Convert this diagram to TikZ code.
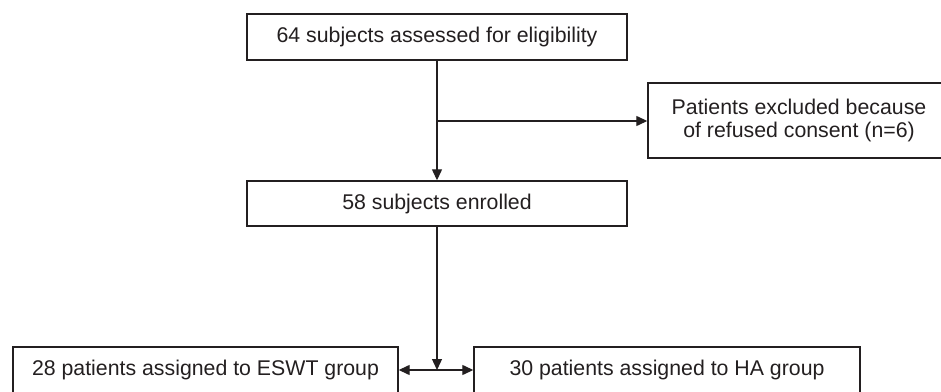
\documentclass[tikz,border=0pt]{standalone}
\usepackage{fontspec}
\setmainfont{Liberation Sans}
\usetikzlibrary{arrows.meta}
\definecolor{ink}{HTML}{231F20}
\begin{document}
\begin{tikzpicture}[x=1pt,y=1pt,
  box/.style={draw=ink, line width=1.4pt, text=ink, inner sep=0pt, align=center,
    font=\fontsize{21.3}{23}\selectfont},
  arr/.style={draw=ink, line width=1.3pt, -{Triangle[length=11pt,width=10pt]}},
  darr/.style={draw=ink, line width=1.3pt, {Triangle[length=11pt,width=10pt]}-{Triangle[length=11pt,width=10pt]}}]
\useasboundingbox (0,0) rectangle (941,391);
\node[box, minimum width=380, minimum height=46] (top) at (437,354) {64 subjects assessed for eligibility};
\node[box, minimum width=380, minimum height=45] (mid) at (437,187.5) {58 subjects enrolled};
\node[box, minimum width=302, minimum height=75] (excl) at (799,270.5) {Patients excluded because\\of refused consent (n=6)};
\node[box, minimum width=385, minimum height=46] (eswt) at (205.5,21) {28 patients assigned to ESWT group};
\node[box, minimum width=386, minimum height=46] (ha) at (667,21) {30 patients assigned to HA group};
\coordinate (br) at (437,270);
\coordinate (j) at (437,21);
\draw[arr] (top.south) -- (mid.north);
\draw[arr] (br) -- (br -| excl.west);
\draw[arr] (mid.south) -- (j);
\draw[darr] (eswt.east) -- (ha.west);
\end{tikzpicture}
\end{document}
